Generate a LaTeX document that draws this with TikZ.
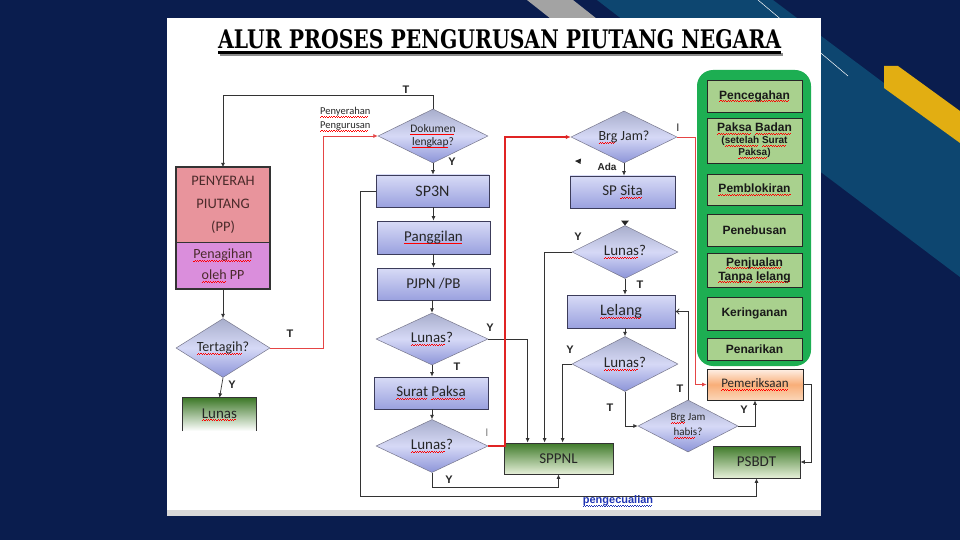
\documentclass[tikz,border=0pt]{standalone}
\usepackage{fontspec}
\setmainfont{Carlito}
\newfontfamily\lsans{Liberation Sans}
\newfontfamily\titlefont{DejaVu Serif}
\usetikzlibrary{shapes.geometric,arrows.meta}
\newcommand\wavy[2]{\setbox0\hbox{#2}\rlap{\textcolor{#1}{\raisebox{-2.6pt}{\hbox to\wd0{\leaders\hbox to 2.4pt{\rule{1.2pt}{0.55pt}\raisebox{0.6pt}{\rule{1.2pt}{0.55pt}}}\hfil}}}}\box0\relax}
\newcommand\sq[1]{\wavy{red}{#1}}
\newcommand\bq[1]{\wavy{bluetxt}{#1}}
\definecolor{navy}{HTML}{0A1D4E}
\definecolor{bandc}{HTML}{0D4670}
\definecolor{graystripe}{HTML}{A3A3A3}
\definecolor{goldc}{HTML}{E2AE12}
\definecolor{bdr}{HTML}{3C3C5A}
\definecolor{bt}{HTML}{D8DBF6}
\definecolor{bb}{HTML}{9AA1DF}
\definecolor{dt}{HTML}{A8AECC}
\definecolor{dm}{HTML}{D6D9F6}
\definecolor{db}{HTML}{8C94D8}
\definecolor{gt}{HTML}{3F7A2A}
\definecolor{gb}{HTML}{E6F0D9}
\definecolor{gpanel}{HTML}{1DAE52}
\definecolor{pl}{HTML}{A9D18E}
\definecolor{ppc}{HTML}{E8949C}
\definecolor{penc}{HTML}{DA8EDC}
\definecolor{pptext}{HTML}{4A2A2A}
\definecolor{redc}{HTML}{E02424}
\definecolor{bluetxt}{HTML}{1F35B5}
\definecolor{pemt}{HTML}{FEF0E6}
\definecolor{pemm}{HTML}{F9AE78}
\definecolor{pemb}{HTML}{FBD6B8}
\tikzset{
  lbl/.style={font=\lsans\bfseries\fontsize{11}{12}\selectfont, text=black!85, inner sep=0pt},
  bbox/.style={rectangle, draw=bdr, line width=0.8pt, top color=bt, bottom color=bb, inner sep=0pt, font=\fontsize{15}{17}\selectfont, text=black!85},
  dia/.style={diamond, draw=bdr!70, line width=0.5pt, top color=dt, bottom color=db, middle color=dm, inner sep=0pt, shape aspect=2, font=\fontsize{15}{17}\selectfont, text=black!85, align=center},
  gbox/.style={rectangle, draw=black!80, line width=0.8pt, top color=gt, bottom color=gb, inner sep=0pt, font=\fontsize{15}{17}\selectfont, text=black!85},
  pbox/.style={rectangle, draw=black!85, line width=0.8pt, fill=pl, inner sep=0pt, minimum width=95pt, font=\lsans\bfseries\fontsize{12}{14}\selectfont, align=center, text=black!90},
  conn/.style={line width=0.7pt, draw=black!80},
  arr/.style={conn, -{Latex[length=4.5pt,width=4pt]}},
  redthin/.style={line width=0.7pt, draw=redc!85, -{Latex[length=4.5pt,width=4pt]}},
  redthick/.style={line width=2pt, draw=redc, -{Latex[length=5pt,width=4.5pt]}}
}
\begin{document}
\begin{tikzpicture}[x=1pt,y=-1pt]
\useasboundingbox (0,0) rectangle (960,540);
% background
\fill[navy] (0,0) rectangle (960,540);
\fill[bandc] (597,0) -- (773,0) -- (960,140) -- (960,277) -- (822,173) -- cycle;
\fill[graystripe] (527,0) -- (573,0) -- (630,45) -- (584,45) -- cycle;
\draw[white, line width=0.5pt] (758,0) -- (848,76);
\fill[goldc] (884,66) -- (898,66) -- (960,111) -- (960,143) -- (884,88) -- cycle;
% panel
\fill[white] (167,18) rectangle (821,510);
\fill[black!15] (167,510) rectangle (821,516);
% title
\node[inner sep=0pt, anchor=base west, text=black] (title) at (218,48.5) {\resizebox{563pt}{19pt}{\titlefont\bfseries ALUR PROSES PENGURUSAN PIUTANG NEGARA}};
\fill[black!45] (220,53) rectangle (783,56);
\fill[black] (218,51) rectangle (781,54);

% left column
\node[rectangle, fill=ppc, minimum width=94pt, minimum height=75pt, inner sep=0pt, align=center, font=\fontsize{14.5}{23}\selectfont, text=pptext] (pp) at (223,205) {PENYERAH\\PIUTANG\\(PP)};
\node[rectangle, fill=penc, minimum width=94pt, minimum height=47pt, inner sep=0pt, align=center, font=\fontsize{14}{21}\selectfont, text=pptext] (pen) at (223,265.5) {\sq{Penagihan}\\\sq{oleh} PP};
\draw[line width=1.6pt, black!80] (pp.north west) rectangle (pen.south east);
\draw[line width=0.8pt, black!80] (pp.south west) -- (pp.south east);
\node[dia, minimum width=94pt, minimum height=59pt, font=\fontsize{14}{16}\selectfont] (tert) at (223,348) {\sq{Tertagih}?};
\node[rectangle, top color=gt, bottom color=white, minimum width=73pt, minimum height=33pt, inner sep=0pt, font=\fontsize{15}{17}\selectfont, text=black!85] (lun0) at (219.5,414.5) {\sq{Lunas}};
\draw[line width=0.8pt, black!80] (lun0.south west) |- (lun0.north east) -- (lun0.south east);

% middle column
\node[dia, minimum width=110pt, minimum height=54pt, font=\fontsize{11.5}{13}\selectfont] (dok) at (433,136) {\sq{Dokumen}\\\sq{lengkap}?};
\node[bbox, minimum width=113pt, minimum height=32pt, font=\fontsize{16}{18}\selectfont] (sp3n) at (432.5,191) {SP3N};
\node[bbox, minimum width=113pt, minimum height=33pt] (pang) at (433.5,237.5) {\sq{Panggilan}};
\node[bbox, minimum width=113pt, minimum height=32pt] (pjpn) at (433.5,284) {PJPN /PB};
\node[dia, minimum width=112pt, minimum height=52pt] (l1) at (432,339) {\sq{Lunas}?};
\node[bbox, minimum width=114pt, minimum height=32pt] (sp) at (431,393) {\sq{Surat} \sq{Paksa}};
\node[dia, minimum width=112pt, minimum height=53pt] (l2) at (432,446) {\sq{Lunas}?};
\node[gbox, minimum width=109pt, minimum height=31pt] (sppnl) at (558.5,458.5) {SPPNL};

% right column
\node[dia, minimum width=106pt, minimum height=52pt, font=\fontsize{14}{16}\selectfont] (bj) at (624,137) {\sq{Brg} Jam?};
\node[bbox, minimum width=105pt, minimum height=32pt] (sps) at (622.5,192) {SP \sq{Sita}};
\node[dia, minimum width=106pt, minimum height=53pt] (l3) at (625,252) {\sq{Lunas}?};
\node[bbox, minimum width=108pt, minimum height=33pt, font=\fontsize{16}{18}\selectfont] (lel) at (621,311.5) {\sq{Lelang}};
\node[dia, minimum width=106pt, minimum height=55pt] (l4) at (625,364) {\sq{Lunas}?};
\node[dia, minimum width=100pt, minimum height=52pt, font=\fontsize{11}{15}\selectfont] (bjh) at (688,426) {\sq{Brg} Jam\\\sq{habis}?};
\node[rectangle, draw=black!85, line width=0.8pt, top color=pemt, bottom color=pemb, middle color=pemm, minimum width=96pt, minimum height=31pt, inner sep=0pt, font=\fontsize{13}{15}\selectfont, text=black!85] (pem) at (755,384.5) {\sq{Pemeriksaan}};
\node[gbox, minimum width=87pt, minimum height=32pt] (psbdt) at (756.5,462) {PSBDT};

% green panel
\node[fill=gpanel, rounded corners=16pt, minimum width=114pt, minimum height=296pt, inner sep=0pt] (gp) at (754,218) {};
\node[pbox, minimum height=32pt] (pc) at (754.5,96) {\sq{Pencegahan}};
\node[pbox, minimum height=45pt, font=\lsans\bfseries\fontsize{10}{12}\selectfont] (pb) at (754.5,140.5) {{\fontsize{12}{13}\selectfont\sq{Paksa} \sq{Badan}}\\(\sq{setelah} \sq{Surat}\\\sq{Paksa})};
\node[pbox, minimum height=31pt] (pbl) at (754.5,189.5) {\sq{Pemblokiran}};
\node[pbox, minimum height=32pt] (peb) at (754.5,230) {Penebusan};
\node[pbox, minimum height=34pt] (pj) at (754.5,270) {\sq{Penjualan}\\\sq{Tanpa} \sq{lelang}};
\node[pbox, minimum height=33pt] (ker) at (754.5,313.5) {Keringanan};
\node[pbox, minimum height=22pt] (pnr) at (754.5,349) {Penarikan};

% connectors
\draw[arr] (dok.north) -- ++(0,-13) -| (pp.north);
\draw[arr] (pen.south) -- (tert.north);
\draw[redthin] (tert.east) -- ++(53,0) |- (dok.west);
\draw[arr] (tert.south) -- (lun0.north);
\draw[arr] (dok.south) -- (dok.south |- sp3n.north);
\draw[arr] (sp3n.south -| pang.north) -- (pang.north);
\draw[arr] (pang.south) -- (pjpn.north);
\draw[arr] (pjpn.south -| l1.north) -- (l1.north);
\draw[arr] (l1.south) -- (l1.south |- sp.north);
\draw[arr] (sp.south -| l2.north) -- (l2.north);
\draw[arr] (l1.east) -| ([xshift=24pt]sppnl.north west);
\draw[redthick] (l2.east) -- ++(17,0) |- (bj.west);
\draw[arr] (l2.south) -- ++(0,15) -| (sppnl.south);
\coordinate (lp) at (360,496);
\draw[arr] (sp3n.west) -| (lp) -| (psbdt.south);
\draw[redthin] (bj.east) -- ++(18,0) |- (pem.west);
\draw[arr] (bj.south) -- (bj.south |- sps.north);
\draw[arr] (l3.west) -| ([xshift=41pt]sppnl.north west);
\draw[arr] (l3.south) -- (l3.south |- lel.north);
\draw[arr] (lel.south -| l4.north) -- (l4.north);
\draw[arr] (l4.west) -| ([xshift=59pt]sppnl.north west);
\draw[arr] (l4.south) |- (bjh.west);
\draw[conn, -{To[length=4pt,width=6pt]}] (bjh.north) |- (lel.east);
\draw[arr] (bjh.east) -| (pem.south);
\draw[arr] (pem.east) -- ++(8,0) |- (psbdt.east);
% stray arrowheads
\fill[black!85] (575,161) -- (581,158.5) -- (580.5,164) -- cycle;
\fill[black!85] (621,220.5) -- (629,220.5) -- (625,225.5) -- cycle;

% labels
\node[lbl] (tA) at (406,90) {T};
\node[lbl, anchor=west, align=left, font=\fontsize{10.5}{14}\selectfont] (pengur) at (320,119.5) {\sq{Penyerahan}\\\sq{Pengurusan}};
\node[lbl] (tB) at (290,334) {T};
\node[lbl] (yA) at (232,385) {Y};
\node[lbl] (yB) at (452,162) {Y};
\node[lbl] (yC) at (490,328) {Y};
\node[lbl] (tC) at (457,367) {T};
\node[lbl, text=black!50, font=\lsans\fontsize{11}{12}\selectfont] (iA) at (487,433) {I};
\node[lbl] (yD) at (449,480) {Y};
\node[lbl, font=\lsans\fontsize{11}{12}\selectfont] (iB) at (678,128) {I};
\node[lbl, font=\lsans\bfseries\fontsize{10}{12}\selectfont] (ada) at (607,167) {Ada};
\node[lbl] (yE) at (578,237) {Y};
\node[lbl] (tD) at (640,285) {T};
\node[lbl] (yF) at (570,350) {Y};
\node[lbl] (tE) at (610,408) {T};
\node[lbl] (tF) at (680,389) {T};
\node[lbl] (yG) at (744,410) {Y};
\node[lbl, text=bluetxt] (pengec) at (618,501) {\bq{pengecualian}};
\end{tikzpicture}
\end{document}
